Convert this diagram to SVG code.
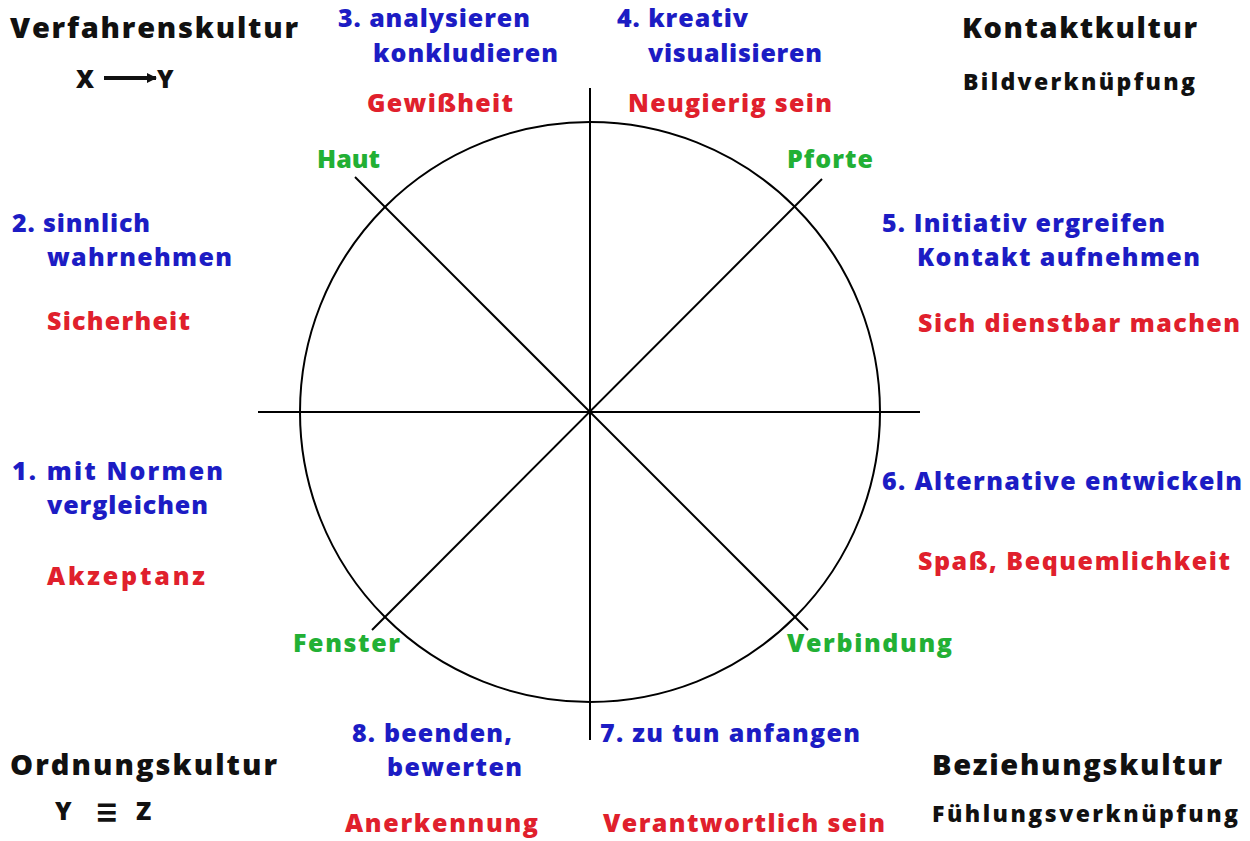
<svg xmlns="http://www.w3.org/2000/svg" width="1250" height="841" viewBox="0 0 1250 841">
<style>
text{font-family:"Open Sans",Lato,"Liberation Sans",sans-serif;font-weight:800}
.k{fill:#111;font-size:29px}
.ks{fill:#111;font-size:23px}
.b{fill:#1c1cc4;font-size:25px}
.r{fill:#e0202c;font-size:25px}
.g{fill:#22b034;font-size:25px}
.ln{stroke:#000;stroke-width:2;fill:none}
</style>
<defs>
<marker id="ah" markerWidth="10" markerHeight="10" refX="9" refY="5" orient="auto" markerUnits="userSpaceOnUse" viewBox="0 0 10 10">
<path d="M0,0 L10,5 L0,10 Z" fill="#111"/>
</marker>
</defs>
<rect width="1250" height="841" fill="#fff"/>
<g id="connectors">
<circle class="ln" cx="590" cy="412" r="290"/>
<line class="ln" x1="590" y1="88" x2="590" y2="740"/>
<line class="ln" x1="258" y1="412" x2="920" y2="412"/>
<line class="ln" x1="355" y1="177" x2="808" y2="630"/>
<line class="ln" x1="822" y1="179" x2="372" y2="630"/>
</g>
<g id="verfahrenskultur">
<text class="k" x="10" y="38" textLength="288" lengthAdjust="spacing">Verfahrenskultur</text>
<text class="ks" x="76" y="88" style="font-size:25px">X</text>
<line x1="104" y1="78" x2="156" y2="78" stroke="#111" stroke-width="4" marker-end="url(#ah)"/>
<text class="ks" x="157" y="88" style="font-size:25px">Y</text>
</g>
<g id="kontaktkultur">
<text class="k" x="962" y="38" textLength="235" lengthAdjust="spacing">Kontaktkultur</text>
<text class="ks" x="963" y="90" textLength="232" lengthAdjust="spacing">Bildverknüpfung</text>
</g>
<g id="ordnungskultur">
<text class="k" x="10" y="775" textLength="267" lengthAdjust="spacing">Ordnungskultur</text>
<text class="ks" x="55" y="820" style="font-size:25px">Y</text>
<text x="95" y="826" style="font-size:40px;fill:#111;font-weight:bold">≡</text>
<text class="ks" x="136" y="820" style="font-size:25px">Z</text>
</g>
<g id="beziehungskultur">
<text class="k" x="932" y="775" textLength="290" lengthAdjust="spacing">Beziehungskultur</text>
<text class="ks" x="932" y="822" textLength="306" lengthAdjust="spacing">Fühlungsverknüpfung</text>
</g>
<g id="step3">
<text class="b" x="338" y="27" textLength="192" lengthAdjust="spacing">3. analysieren</text>
<text class="b" x="373" y="62" textLength="185" lengthAdjust="spacing">konkludieren</text>
<text class="r" x="367" y="112" textLength="146" lengthAdjust="spacing">Gewißheit</text>
</g>
<g id="step4">
<text class="b" x="617" y="27" textLength="131" lengthAdjust="spacing">4. kreativ</text>
<text class="b" x="648" y="62" textLength="174" lengthAdjust="spacing">visualisieren</text>
<text class="r" x="628" y="112" textLength="204" lengthAdjust="spacing">Neugierig sein</text>
</g>
<g id="step2">
<text class="b" x="12" y="232" textLength="138" lengthAdjust="spacing">2. sinnlich</text>
<text class="b" x="47" y="266" textLength="185" lengthAdjust="spacing">wahrnehmen</text>
<text class="r" x="47" y="330" textLength="143" lengthAdjust="spacing">Sicherheit</text>
</g>
<g id="step5">
<text class="b" x="882" y="232" textLength="283" lengthAdjust="spacing">5. Initiativ ergreifen</text>
<text class="b" x="917" y="266" textLength="283" lengthAdjust="spacing">Kontakt aufnehmen</text>
<text class="r" x="918" y="332" textLength="322" lengthAdjust="spacing">Sich dienstbar machen</text>
</g>
<g id="step1">
<text class="b" x="12" y="480" textLength="211" lengthAdjust="spacing">1. mit Normen</text>
<text class="b" x="47" y="514" textLength="161" lengthAdjust="spacing">vergleichen</text>
<text class="r" x="47" y="585" textLength="158" lengthAdjust="spacing">Akzeptanz</text>
</g>
<g id="step6">
<text class="b" x="882" y="490" textLength="360" lengthAdjust="spacing">6. Alternative entwickeln</text>
<text class="r" x="918" y="570" textLength="312" lengthAdjust="spacing">Spaß, Bequemlichkeit</text>
</g>
<g id="step8">
<text class="b" x="352" y="742" textLength="160" lengthAdjust="spacing">8. beenden,</text>
<text class="b" x="387" y="776" textLength="135" lengthAdjust="spacing">bewerten</text>
<text class="r" x="345" y="832" textLength="193" lengthAdjust="spacing">Anerkennung</text>
</g>
<g id="step7">
<text class="b" x="600" y="742" textLength="260" lengthAdjust="spacing">7. zu tun anfangen</text>
<text class="r" x="603" y="832" textLength="282" lengthAdjust="spacing">Verantwortlich sein</text>
</g>
<g id="haut"><text class="g" x="317" y="168">Haut</text></g>
<g id="pforte"><text class="g" x="787" y="168" textLength="86" lengthAdjust="spacing">Pforte</text></g>
<g id="fenster"><text class="g" x="293" y="652" textLength="107" lengthAdjust="spacing">Fenster</text></g>
<g id="verbindung"><text class="g" x="787" y="652" textLength="165" lengthAdjust="spacing">Verbindung</text></g>
</svg>
